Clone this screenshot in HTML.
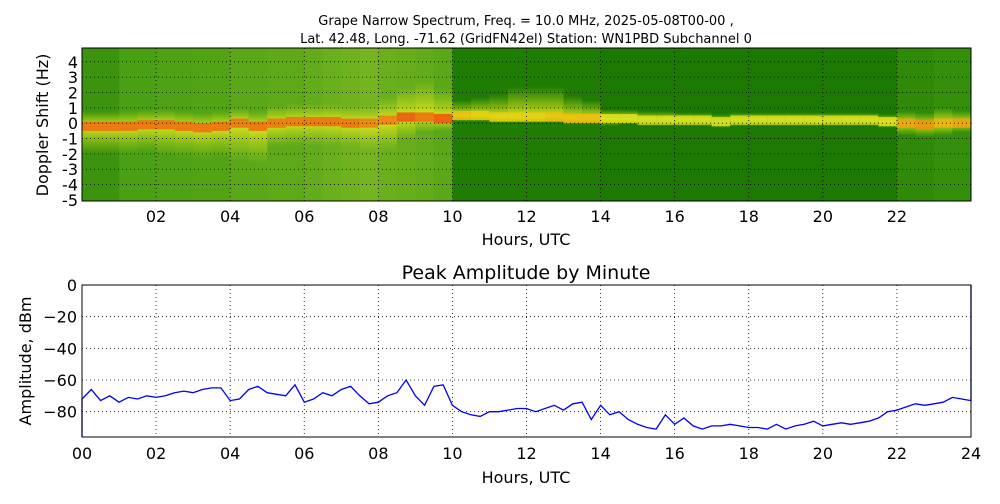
<!DOCTYPE html>
<html><head><meta charset="utf-8">
<style>
body{margin:0;background:#fff;width:1000px;height:500px;overflow:hidden;font-family:"DejaVu Sans","Liberation Sans",sans-serif;}
svg text{font-family:"DejaVu Sans","Liberation Sans",sans-serif;fill:#000;}
</style></head><body>
<svg id="fig" width="1000" height="500" xmlns="http://www.w3.org/2000/svg">
<text x="526" y="25" font-size="13" text-anchor="middle">Grape Narrow Spectrum, Freq. = 10.0 MHz, 2025-05-08T00-00 ,</text>
<text x="526" y="43" font-size="13" text-anchor="middle">Lat.  42.48, Long. -71.62 (GridFN42el) Station: WN1PBD Subchannel 0</text>
<g id="spec"></g>
<g id="amp"></g>
</svg>
<script>
// ---- Spectrogram data (per half hour) ----
const specHours = [0,0.5,1,1.5,2,2.5,3,3.5,4,4.5,5,5.5,6,6.5,7,7.5,8,8.5,9,9.5,10,10.5,11,11.5,12,12.5,13,13.5,14,14.5,15,15.5,16,16.5,17,17.5,18,18.5,19,19.5,20,20.5,21,21.5,22,22.5,23,23.5];
const specCenter = [-0.2,-0.2,-0.2,-0.1,-0.1,-0.2,-0.3,-0.2,0,-0.2,0,0.1,0.1,0.1,0,0,0.2,0.4,0.4,0.3,0.5,0.5,0.4,0.4,0.4,0.4,0.3,0.3,0.3,0.3,0.2,0.2,0.2,0.2,0.1,0.2,0.2,0.2,0.2,0.2,0.2,0.2,0.2,0.1,0,-0.1,0,0];
const specHaloUp = [1,1,1,1,1,1,1,1,1,1,1.2,1.2,1.2,1.2,1.2,1.2,1.5,2,2.5,2,1,1.2,1.5,2,2,2,1.5,1.2,0.6,0.6,0.6,0.6,0.5,0.5,0.5,0.5,0.5,0.5,0.5,0.5,0.5,0.5,0.5,0.5,0.8,0.8,1,0.8];
const specHaloDown = [1.8,1.8,1.8,1.8,2,2,2,2,2.5,2.5,1.6,1.6,1.6,1.6,1.6,1.8,2,1.5,1,0.8,0.4,0.4,0.4,0.4,0.4,0.4,0.4,0.4,0.5,0.4,0.4,0.4,0.4,0.4,0.4,0.4,0.4,0.4,0.4,0.4,0.4,0.4,0.4,0.4,0.8,0.8,0.8,0.6];
const specBg = ["#3c930e","#3c930e","#48a012","#48a012","#4fa214","#4fa214","#52a414","#52a414","#5aa818","#5aa818","#5ea918","#5ea918","#62ab1a","#6aaf1c","#70b21e","#74b420","#6aaf1c","#66ad1a","#62ab1a","#5aa818","#1f7d03","#1f7d03","#1f7d03","#1f7d03","#1f7d03","#1f7d03","#1f7d03","#1f7d03","#1c7a02","#1c7a02","#1c7a02","#1c7a02","#1c7a02","#1c7a02","#1c7a02","#1c7a02","#1c7a02","#1c7a02","#1c7a02","#1c7a02","#1c7a02","#1c7a02","#1c7a02","#1c7a02","#2f8a08","#2f8a08","#34900a","#34900a"];
const specCoreColor = ["#f06a10","#f06a10","#f06a10","#f06a10","#f06a10","#f06a10","#f06a10","#f06a10","#f07010","#f06a10","#f07010","#f07010","#f06a10","#f06a10","#f06a10","#f07a10","#f07a10","#f05010","#f06a10","#f05010","#f0c010","#e8d010","#e8d010","#e8d010","#e8d010","#f0c010","#f0c010","#f0c010","#e0e020","#e0e020","#d8e020","#d8e020","#d8e020","#d8e020","#d8e020","#d8e020","#d8e020","#d8e020","#d8e020","#d8e020","#d8e020","#d8e020","#d8e020","#e0e020","#f0a010","#f09010","#f0b010","#f0a010"];
const specXTicks = ["02","04","06","08","10","12","14","16","18","20","22"];
const specYTicks = [4,3,2,1,0,-1,-2,-3,-4,-5];

// ---- Amplitude data (every 15 min, 00:00 to 23:45) ----
const ampValues = [
-72,-66,-73,-70,-74,-71,-72,-70,
-71,-70,-68,-67,-68,-66,-65,-65,
-73,-72,-66,-64,-68,-69,-70,-63,
-74,-72,-68,-70,-66,-64,-70,-75,
-74,-70,-68,-60,-70,-76,-64,-63,
-76,-80,-82,-83,-80,-80,-79,-78,
-78,-80,-78,-76,-79,-75,-74,-85,
-76,-82,-80,-85,-88,-90,-91,-82,
-88,-84,-89,-91,-89,-89,-88,-89,
-90,-90,-91,-88,-91,-89,-88,-86,
-89,-88,-87,-88,-87,-86,-84,-80,
-79,-77,-75,-76,-75,-74,-71,-72];
const ampEndValue = -73;
const ampXTicks = ["00","02","04","06","08","10","12","14","16","18","20","22","24"];
const ampYTicks = [0,-20,-40,-60,-80];

const NS="http://www.w3.org/2000/svg";
function mk(tag,attrs,parent,txt){const e=document.createElementNS(NS,tag);for(const k in attrs)e.setAttribute(k,attrs[k]);if(txt!==undefined)e.textContent=txt;parent.appendChild(e);return e;}

// ---- spectrogram ----
const S={x0:82,x1:971,y0:48,y1:201,hmin:-5.07,hmax:4.9};
const sx=h=>S.x0+(h/24)*(S.x1-S.x0);
const sy=v=>S.y1-(v-S.hmin)/(S.hmax-S.hmin)*(S.y1-S.y0);
const spec=document.getElementById('spec');
const defs=mk('defs',{},spec);
mk('clipPath',{id:'specClip'},defs);
mk('rect',{x:S.x0,y:S.y0,width:S.x1-S.x0,height:S.y1-S.y0},defs.lastChild);
const gUp=mk('linearGradient',{id:'haloUp',x1:0,y1:1,x2:0,y2:0},defs);
mk('stop',{offset:0,'stop-color':'#e6e61a','stop-opacity':0.95},gUp);
mk('stop',{offset:1,'stop-color':'#b8d81a','stop-opacity':0},gUp);
const gDn=mk('linearGradient',{id:'haloDn',x1:0,y1:0,x2:0,y2:1},defs);
mk('stop',{offset:0,'stop-color':'#e6e61a','stop-opacity':0.95},gDn);
mk('stop',{offset:1,'stop-color':'#b8d81a','stop-opacity':0},gDn);
const cg=mk('g',{'clip-path':'url(#specClip)'},spec);
const slotW=0.5;
specHours.forEach((h,i)=>{
  const x=sx(h),w=sx(h+slotW)-x+0.5;
  const bg=mk('rect',{x:x,y:S.y0,width:w,height:S.y1-S.y0,fill:specBg[i]},cg);
  
  
  const c=specCenter[i];
  const hu=mk('rect',{x:x,y:sy(c+specHaloUp[i]),width:w,height:sy(c)-sy(c+specHaloUp[i]),fill:'url(#haloUp)'},cg);
  
  
  const hd=mk('rect',{x:x,y:sy(c),width:w,height:sy(c-specHaloDown[i])-sy(c),fill:'url(#haloDn)'},cg);
  
  
  const core=mk('rect',{x:x,y:sy(c+0.3),width:w,height:sy(c-0.3)-sy(c+0.3),fill:specCoreColor[i],opacity:0.85},cg);
  
  
});
specXTicks.forEach(t=>{const x=sx(+t);
  const l=mk('line',{x1:x,x2:x,y1:S.y0,y2:S.y1,stroke:'#000','stroke-dasharray':'1,3','stroke-width':0.8},spec);
  
  const tx=mk('text',{x:x,y:222,'font-size':16,'text-anchor':'middle'},spec,t);
  
});
specYTicks.forEach(v=>{const y=sy(v);
  if(v!==-5){const l=mk('line',{x1:S.x0,x2:S.x1,y1:y,y2:y,stroke:'#000','stroke-dasharray':'1,3','stroke-width':0.8},spec);
  }
  const tx=mk('text',{x:78,y:y+6,'font-size':16,'text-anchor':'end'},spec,String(v));
  
});
mk('rect',{x:S.x0,y:S.y0,width:S.x1-S.x0,height:S.y1-S.y0,fill:'none',stroke:'#000','stroke-width':1},spec);
let t1=mk('text',{x:526,y:245,'font-size':16,'text-anchor':'middle'},spec,'Hours, UTC');

let t2=mk('text',{x:0,y:0,'font-size':16,'text-anchor':'middle',transform:'translate(48,125) rotate(-90)'},spec,'Doppler Shift (Hz)');


// ---- amplitude chart ----
const A={x0:82,x1:971,y0:285,y1:437,vmin:-96,vmax:0};
const ax=h=>A.x0+(h/24)*(A.x1-A.x0);
const ay=v=>A.y1-(v-A.vmin)/(A.vmax-A.vmin)*(A.y1-A.y0);
const amp=document.getElementById('amp');
ampXTicks.forEach(t=>{const x=ax(+t);
  if(+t>0&&+t<24){const l=mk('line',{x1:x,x2:x,y1:A.y0,y2:A.y1,stroke:'#000','stroke-dasharray':'1,3','stroke-width':0.8},amp);
  }
  const tx=mk('text',{x:x,y:459,'font-size':16,'text-anchor':'middle'},amp,t);
  
});
ampYTicks.forEach(v=>{const y=ay(v);
  if(v!==0){const l=mk('line',{x1:A.x0,x2:A.x1,y1:y,y2:y,stroke:'#000','stroke-dasharray':'1,3','stroke-width':0.8},amp);
  }
  const tx=mk('text',{x:77,y:y+6,'font-size':16,'text-anchor':'end'},amp,String(v).replace('-','\u2212'));
  
});
const step=24/ampValues.length;
let pts=ampValues.map((v,i)=>ax(i*step).toFixed(1)+','+ay(v).toFixed(1));
pts.unshift(ax(0)+','+ay(-96));
pts.push(ax(24)+','+ay(ampEndValue));pts.push(ax(24)+','+ay(0));
const line=mk('polyline',{points:pts.join(' '),fill:'none',stroke:'#0000ff','stroke-width':1.3},amp);


mk('rect',{x:A.x0,y:A.y0,width:A.x1-A.x0,height:A.y1-A.y0,fill:'none',stroke:'#000','stroke-width':1},amp);
let t3=mk('text',{x:526,y:279,'font-size':19,'text-anchor':'middle'},amp,'Peak Amplitude by Minute');

let t4=mk('text',{x:526,y:483,'font-size':16,'text-anchor':'middle'},amp,'Hours, UTC');

let t5=mk('text',{x:0,y:0,'font-size':16,'text-anchor':'middle',transform:'translate(31,361) rotate(-90)'},amp,'Amplitude, dBm');

</script>
</body></html>
